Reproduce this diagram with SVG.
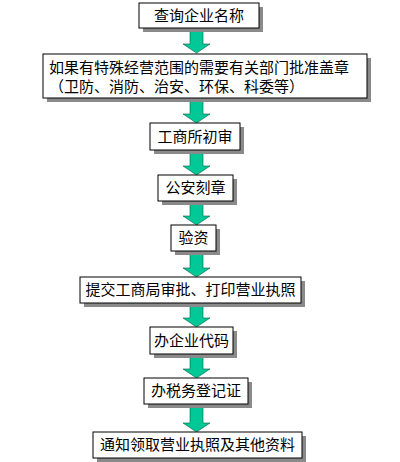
<svg xmlns="http://www.w3.org/2000/svg" width="400" height="462" viewBox="0 0 400 462">
<defs>
<style>
.sh{fill:#8a8a8a}
.bx{fill:#fff;stroke:#000;stroke-width:1}
.t{font-family:"Noto Sans CJK SC","Noto Sans CJK TC",sans-serif;font-size:15px;fill:#000}
.c{text-anchor:middle}
.ar{fill:#00c896;stroke:#0a5a44;stroke-width:0.6}
</style>
</defs>
<rect width="400" height="462" fill="#fff"/>
<g id="connectors">
<path class="ar" d="M190,28 V44 H183 L196.5,53 L210,44 H203 V28 Z"/>
<path class="ar" d="M190,98 V114 H183 L196.5,123 L210,114 H203 V98 Z"/>
<path class="ar" d="M190,150 V166 H183 L196.5,175 L210,166 H203 V150 Z"/>
<path class="ar" d="M190,201 V216 H183 L196.5,225 L210,216 H203 V201 Z"/>
<path class="ar" d="M190,251 V268 H183 L196.5,277 L210,268 H203 V251 Z"/>
<path class="ar" d="M190,303 V318 H183 L196.5,327 L210,318 H203 V303 Z"/>
<path class="ar" d="M190,354 V369 H183 L196.5,378 L210,369 H203 V354 Z"/>
<path class="ar" d="M190,403 V423 H183 L196.5,432 L210,423 H203 V403 Z"/>
</g>
<g id="n1"><rect class="sh" x="143" y="7" width="120" height="25"/><rect class="bx" x="139" y="3" width="120" height="25"/><text class="t c" x="199" y="21">查询企业名称</text></g>
<g id="n2"><rect class="sh" x="47" y="58" width="324" height="44"/><rect class="bx" x="43" y="54" width="324" height="44"/><text class="t" x="49" y="73">如果有特殊经营范围的需要有关部门批准盖章</text><text class="t" x="49" y="92">（卫防、消防、治安、环保、科委等）</text></g>
<g id="n3"><rect class="sh" x="154" y="127" width="90" height="27"/><rect class="bx" x="150" y="123" width="90" height="27"/><text class="t c" x="195" y="142">工商所初审</text></g>
<g id="n4"><rect class="sh" x="162" y="179" width="75" height="26"/><rect class="bx" x="158" y="175" width="75" height="26"/><text class="t c" x="195.5" y="193">公安刻章</text></g>
<g id="n5"><rect class="sh" x="175" y="229" width="45" height="26"/><rect class="bx" x="171" y="225" width="45" height="26"/><text class="t c" x="193.5" y="243">验资</text></g>
<g id="n6"><rect class="sh" x="84" y="281" width="221" height="26"/><rect class="bx" x="80" y="277" width="221" height="26"/><text class="t c" x="190.5" y="295">提交工商局审批、打印营业执照</text></g>
<g id="n7"><rect class="sh" x="154" y="331" width="83" height="27"/><rect class="bx" x="150" y="327" width="83" height="27"/><text class="t c" x="191.5" y="346">办企业代码</text></g>
<g id="n8"><rect class="sh" x="148" y="382" width="104" height="26"/><rect class="bx" x="144" y="378" width="104" height="26"/><text class="t c" x="196" y="396">办税务登记证</text></g>
<g id="n9"><rect class="sh" x="97" y="436" width="209" height="26"/><rect class="bx" x="93" y="432" width="209" height="26"/><text class="t c" x="197.5" y="450">通知领取营业执照及其他资料</text></g>
</svg>
